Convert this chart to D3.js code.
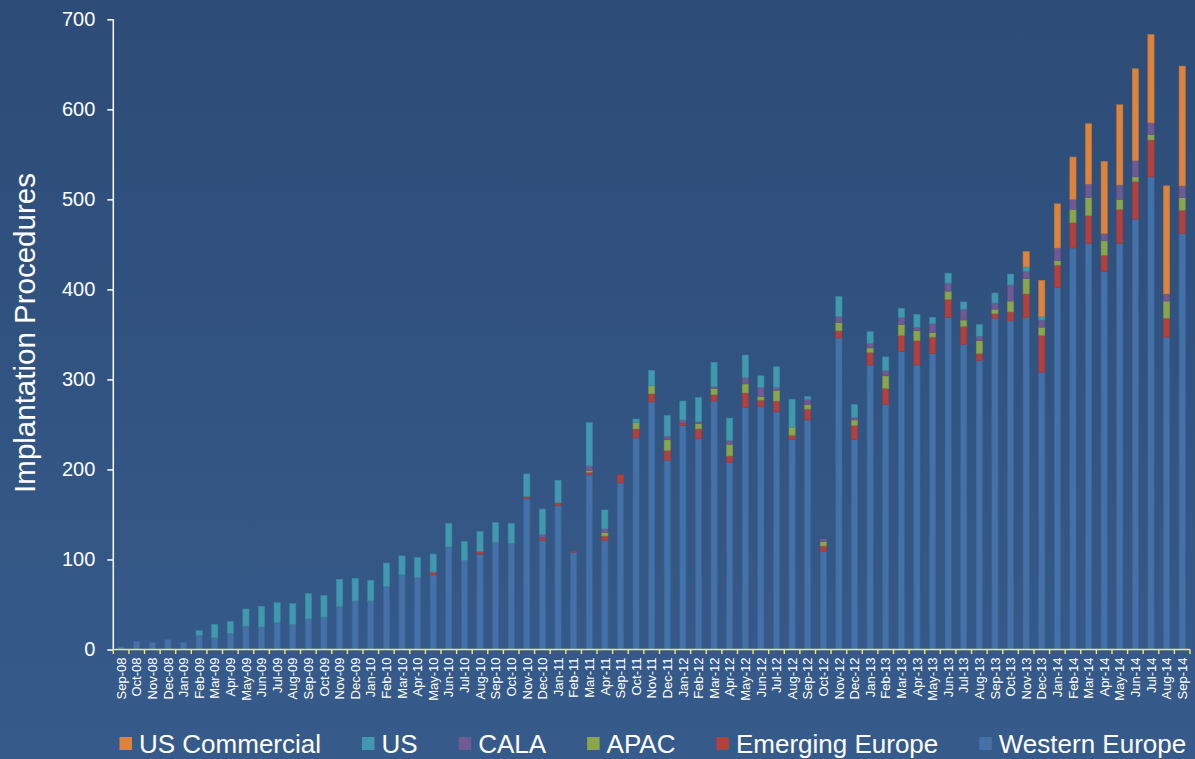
<!DOCTYPE html>
<html>
<head>
<meta charset="utf-8">
<script src="https://cdn.jsdelivr.net/npm/d3@7"></script>
<style>
  html, body { margin: 0; padding: 0; background: #30527f; }
  svg { display: block; font-family: "Liberation Sans", Arial, sans-serif; }
</style>
</head>
<body>
<svg id="chart" width="1195" height="759"></svg>
<script>
const months = ["Sep-08","Oct-08","Nov-08","Dec-08","Jan-09","Feb-09","Mar-09","Apr-09","May-09","Jun-09","Jul-09","Aug-09",
  "Sep-09","Oct-09","Nov-09","Dec-09","Jan-10","Feb-10","Mar-10","Apr-10","May-10","Jun-10","Jul-10","Aug-10",
  "Sep-10","Oct-10","Nov-10","Dec-10","Jan-11","Feb-11","Mar-11","Apr-11","Sep-11","Oct-11","Nov-11","Dec-11",
  "Jan-12","Feb-12","Mar-12","Apr-12","May-12","Jun-12","Jul-12","Aug-12","Sep-12","Oct-12","Nov-12","Dec-12",
  "Jan-13","Feb-13","Mar-13","Apr-13","May-13","Jun-13","Jul-13","Aug-13","Sep-13","Oct-13","Nov-13","Dec-13",
  "Jan-14","Feb-14","Mar-14","Apr-14","May-14","Jun-14","Jul-14","Aug-14","Sep-14"];

const westernEurope = [3,9,8,11,8,16,13,18,26,25,30,28,
  34,36,48,54,54,70,83,80,83,114,99,106,
  119,118,168,121,160,108,194,121,185,235,275,210,
  249,234,276,208,269,270,264,233,255,109,346,233,
  316,272,331,316,329,369,339,321,368,365,369,308,
  402,446,451,420,451,478,525,347,462];

const emergingEurope = [0,0,0,0,0,0,0,0,0,0,0,0,
  0,0,0,0,0,0,0,0,3,0,0,3,
  0,0,2,3,3,1,3,5,9,10,9,11,
  2,11,7,7,16,7,12,5,12,6,8,16,
  14,18,18,27,18,20,20,8,5,10,26,41,
  25,28,31,18,38,42,41,21,26];

const apac = [0,0,0,0,0,0,0,0,0,0,0,0,
  0,0,0,0,0,0,0,0,0,0,0,0,
  0,0,0,0,0,0,2,4,0,7,9,12,
  0,6,7,13,10,4,12,9,5,5,9,6,
  5,14,12,11,5,9,7,14,5,12,17,9,
  5,15,20,16,11,5,6,19,14];

const cala = [0,0,0,0,0,0,0,0,0,0,0,0,
  0,0,0,0,0,0,0,0,0,0,0,0,
  0,0,0,4,0,0,5,4,0,0,0,4,
  4,2,2,4,7,10,3,0,6,3,7,3,
  5,6,8,4,10,9,12,5,7,18,8,8,
  14,11,15,8,16,18,13,8,13];

const us = [0,0,0,0,0,5,15,13,19,23,22,23,
  28,24,30,25,23,26,21,22,20,26,21,22,
  22,22,25,28,25,0,48,21,0,4,17,23,
  21,27,27,25,25,13,23,31,3,0,22,14,
  13,15,10,14,7,11,8,13,11,12,5,4,
  0,0,0,0,0,0,0,0,0];

const usCommercial = [0,0,0,0,0,0,0,0,0,0,0,0,
  0,0,0,0,0,0,0,0,0,0,0,0,
  0,0,0,0,0,0,0,0,0,0,0,0,
  0,0,0,0,0,0,0,0,0,0,0,0,
  0,0,0,0,0,0,0,0,0,0,17,40,
  49,47,67,80,89,102,98,120,133];

const yTicks = [0,100,200,300,400,500,600,700];
const seriesNames = ["Western Europe","Emerging Europe","APAC","CALA","US","US Commercial"];
const legendOrder = ["US Commercial","US","CALA","APAC","Emerging Europe","Western Europe"];
const colors = {
  "Western Europe": "#4471a7",
  "Emerging Europe": "#b0413f",
  "APAC": "#8aa54b",
  "CALA": "#715a92",
  "US": "#4199b0",
  "US Commercial": "#dc843d"
};
const strokes = {
  "Western Europe": "#3d6699",
  "Emerging Europe": "#9a3b3b",
  "APAC": "#7a9345",
  "CALA": "#634f82",
  "US": "#3a889e",
  "US Commercial": "#c27638"
};

const seriesValues = [westernEurope, emergingEurope, apac, cala, us, usCommercial];
const table = months.map((m, i) => {
  const row = { month: m };
  seriesNames.forEach((s, k) => row[s] = seriesValues[k][i]);
  return row;
});

const svg = d3.select("#chart");
const W = 1195, H = 759;

const defs = svg.append("defs");
const grad = defs.append("linearGradient").attr("id","bg").attr("x1",0).attr("y1",0).attr("x2",0).attr("y2",1);
grad.append("stop").attr("offset","0%").attr("stop-color","#2d4c77");
grad.append("stop").attr("offset","100%").attr("stop-color","#365b8b");
svg.append("rect").attr("width",W).attr("height",H).attr("fill","url(#bg)");

const x = d3.scaleBand().domain(months).range([113.3, 1190]).padding(0);
const y = d3.scaleLinear().domain([0, 700]).range([649.5, 19.3]);

const stack = d3.stack().keys(seriesNames);
const layers = stack(table);
const barW = 6.2;

svg.append("g").selectAll("g")
  .data(layers)
  .join("g")
  .attr("fill", d => colors[d.key])
  .attr("stroke", d => strokes[d.key])
  .attr("stroke-width", 0.6)
  .selectAll("rect")
  .data(d => d.filter(p => p[1] - p[0] > 0))
  .join("rect")
  .attr("x", d => x(d.data.month) + x.bandwidth()/2 - barW/2)
  .attr("width", barW)
  .attr("y", d => y(d[1]))
  .attr("height", d => y(d[0]) - y(d[1]));

// Y axis
const yAxis = svg.append("g")
  .attr("transform", `translate(113.3,0)`)
  .call(d3.axisLeft(y).tickValues(yTicks).tickSize(6).tickPadding(12).tickFormat(d3.format("d")));
yAxis.select(".domain").attr("stroke","#ffffff").attr("stroke-width",1.5).attr("d", `M0,${y(700)}V${y(0)}`);
yAxis.selectAll(".tick line").attr("stroke","#ffffff").attr("stroke-width",1.5);
yAxis.selectAll(".tick text").attr("fill","#ffffff").attr("font-size","20px")
  .attr("font-family",'"Liberation Sans", Arial, sans-serif');

// X axis (yellow)
const xAxisG = svg.append("g");
xAxisG.append("line")
  .attr("x1", 113.3).attr("x2", 1190).attr("y1", y(0)).attr("y2", y(0))
  .attr("stroke", "#ecec6a").attr("stroke-width", 1.6);
xAxisG.selectAll("line.tk")
  .data(months.concat(["__end"]))
  .join("line")
  .attr("class","tk")
  .attr("x1", (d,i) => i < months.length ? x(d) : x(months[months.length-1]) + x.bandwidth())
  .attr("x2", (d,i) => i < months.length ? x(d) : x(months[months.length-1]) + x.bandwidth())
  .attr("y1", y(0)).attr("y2", y(0) + 4.5)
  .attr("stroke", "#ecec6a").attr("stroke-width", 1.4);
xAxisG.selectAll("text")
  .data(months)
  .join("text")
  .attr("transform", d => `translate(${x(d) + x.bandwidth()/2},${y(0) + 8}) rotate(-90)`)
  .attr("text-anchor","end")
  .attr("dy","0.36em")
  .attr("fill","#ffffff")
  .attr("font-size","13px")
  .text(d => d);

// Y title
svg.append("text")
  .attr("transform", "translate(24,333) rotate(-90)")
  .attr("text-anchor","middle")
  .attr("dy","0.36em")
  .attr("fill","#ffffff")
  .attr("font-size","29.5px")
  .text("Implantation Procedures");

// Legend
const legend = svg.append("g");
let lx = 119.5;
legendOrder.forEach(name => {
  const g = legend.append("g");
  g.append("rect").attr("x", lx).attr("y", 737).attr("width", 12.5).attr("height", 13)
    .attr("fill", colors[name]);
  const t = g.append("text").attr("x", lx + 19.5).attr("y", 753)
    .attr("fill","#ffffff").attr("font-size","26px").text(name);
  const w = t.node().getComputedTextLength();
  lx = lx + 19.5 + w + 41;
});
</script>
</body>
</html>
